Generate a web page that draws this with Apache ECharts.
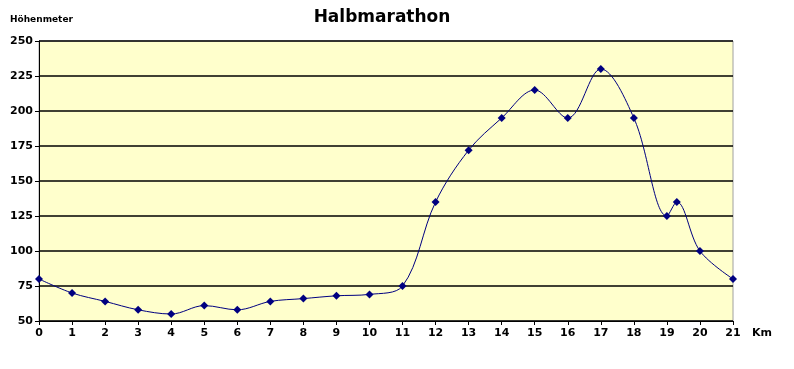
<!DOCTYPE html>
<html>
<head>
<meta charset="utf-8">
<script src="https://cdn.jsdelivr.net/npm/echarts@6/dist/echarts.min.js"></script>
<style>html,body{margin:0;padding:0;background:#fff}#c{width:794px;height:369px}</style>
</head>
<body>
<div id="c"></div>
<script>
const km = [0,1,2,3,4,5,6,7,8,9,10,11,12,13,14,15,16,17,18,19,19.3,20,21];
const hoehe = [80,70,64,58,55,61,58,64,66,68,69,75,135,172,195,215,195,230,195,125,135,100,80];
const title = 'Halbmarathon';
const yName = 'Höhenmeter';
const xName = 'Km';

const chart = echarts.init(document.getElementById('c'));
const F = '"DejaVu Sans", Verdana, sans-serif';
chart.setOption({
  animation: false,
  grid: { left: 39, right: 61, top: 41, bottom: 48, containLabel: false, outerBoundsMode: 'none',
    show: true, backgroundColor: '#FFFFCC', borderColor: '#A0A0A0', borderWidth: 1 },
  graphic: [
    { type: 'text', x: 382, y: 9, style: { text: title, font: 'bold 17px "DejaVu Sans", Verdana, sans-serif', fill: '#000', textAlign: 'center' } },
    { type: 'text', left: 10, top: 15, style: { text: yName, font: 'bold 9px "DejaVu Sans", Verdana, sans-serif', fill: '#000' } },
    { type: 'text', left: 752, top: 328, style: { text: xName, font: 'bold 11px "DejaVu Sans", Verdana, sans-serif', fill: '#000' } }
  ],
  xAxis: {
    type: 'value', min: 0, max: 21, interval: 1,
    axisLine: { show: true, onZero: false, lineStyle: { color: '#000', width: 1 } },
    axisTick: { show: true, length: 4, lineStyle: { color: '#000' } },
    axisLabel: { fontFamily: F, fontWeight: 'bold', fontSize: 11, color: '#000', margin: 7 },
    splitLine: { show: false }
  },
  yAxis: {
    type: 'value', min: 50, max: 250, interval: 25,
    axisLine: { show: true, lineStyle: { color: '#000', width: 1 } },
    axisTick: { show: true, length: 4, lineStyle: { color: '#000' } },
    axisLabel: { fontFamily: F, fontWeight: 'bold', fontSize: 11, color: '#000', margin: 6 },
    splitLine: { show: true, lineStyle: { color: '#000', width: 1.5 } }
  },
  series: [{
    type: 'line', data: km.map((x, i) => [x, hoehe[i]]),
    smooth: 0.35,
    symbol: 'diamond', symbolSize: 8,
    lineStyle: { color: '#000080', width: 1 },
    itemStyle: { color: '#000080' }
  }]
});
</script>
</body>
</html>
